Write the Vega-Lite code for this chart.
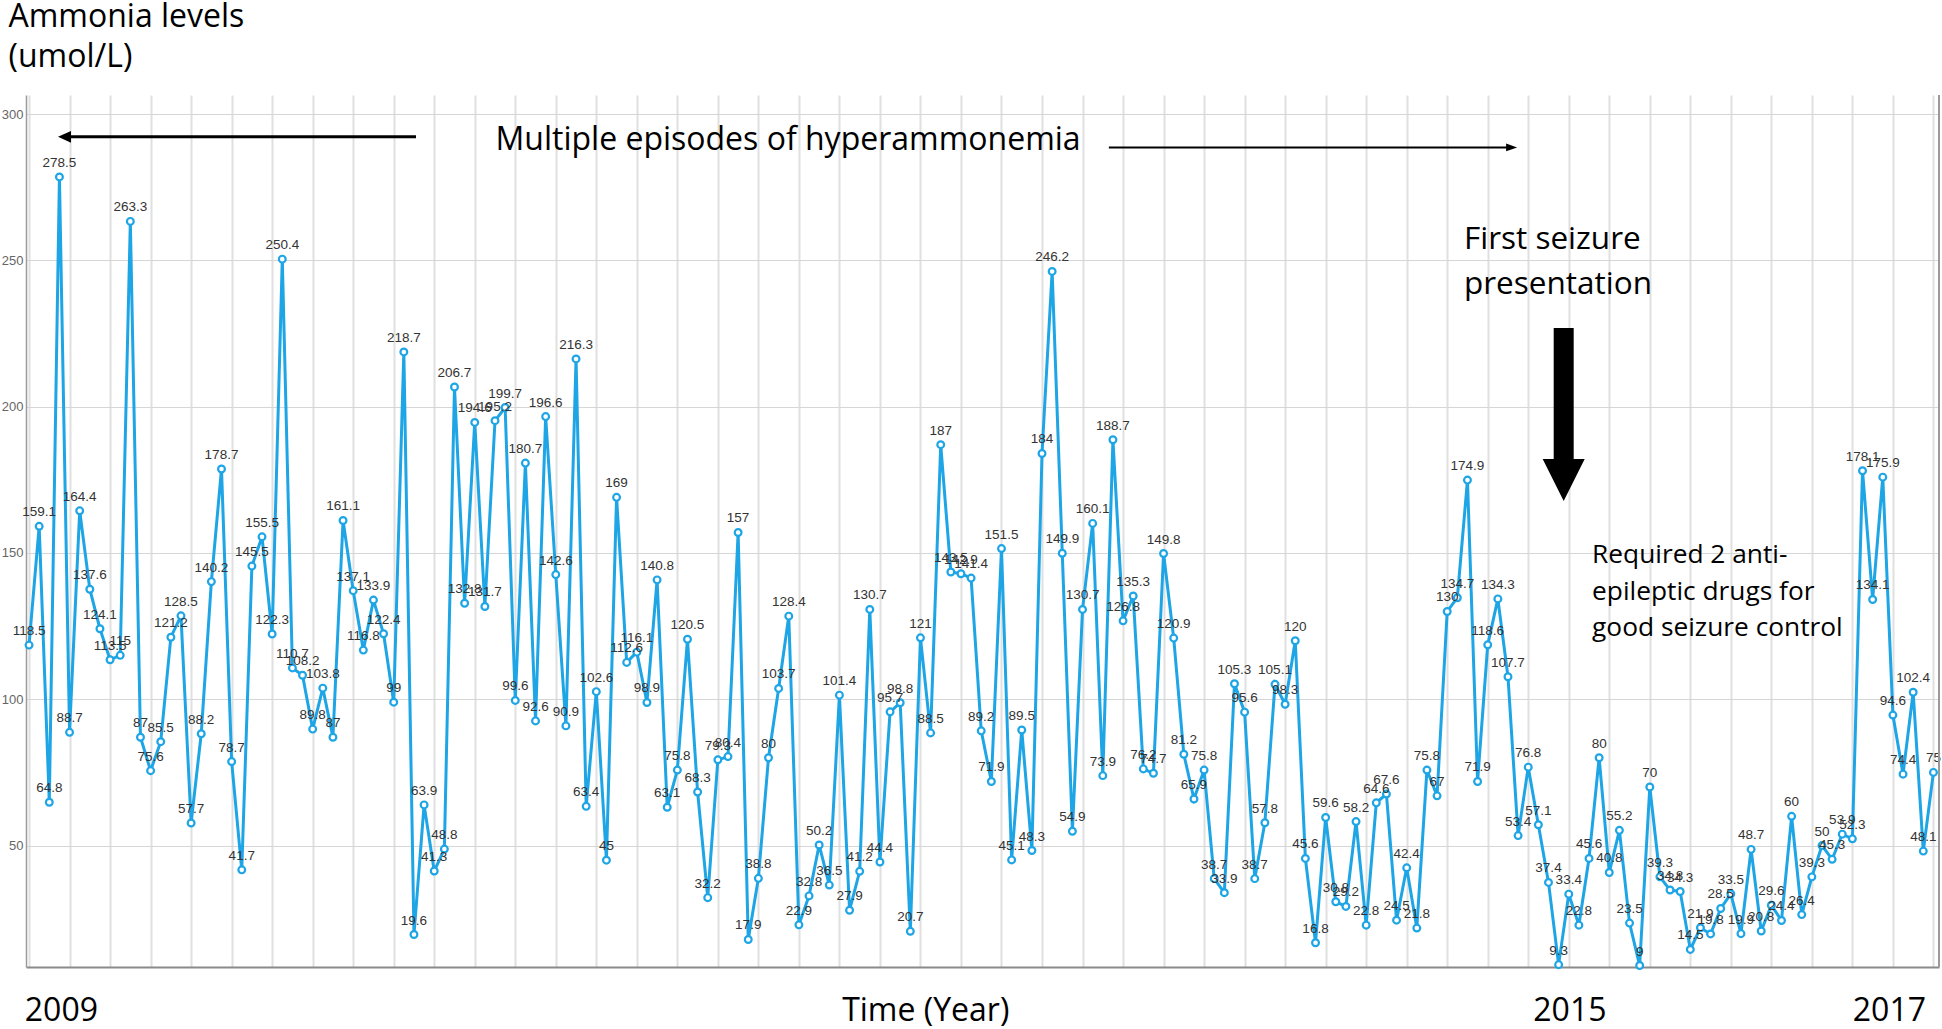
{
  "$schema": "https://vega.github.io/schema/vega-lite/v6.json",
  "width": 1913,
  "height": 872,
  "autosize": {"type": "none"},
  "padding": {"left": 26, "top": 95, "right": 3, "bottom": 62},
  "background": "white",
  "config": {"view": {"stroke": null}},
  "data": {"values": [
    {"i":1,"v":118.5},{"i":2,"v":159.1},{"i":3,"v":64.8},{"i":4,"v":278.5},{"i":5,"v":88.7},{"i":6,"v":164.4},{"i":7,"v":137.6},{"i":8,"v":124.1},{"i":9,"v":113.5},{"i":10,"v":115},
    {"i":11,"v":263.3},{"i":12,"v":87},{"i":13,"v":75.6},{"i":14,"v":85.5},{"i":15,"v":121.2},{"i":16,"v":128.5},{"i":17,"v":57.7},{"i":18,"v":88.2},{"i":19,"v":140.2},{"i":20,"v":178.7},
    {"i":21,"v":78.7},{"i":22,"v":41.7},{"i":23,"v":145.5},{"i":24,"v":155.5},{"i":25,"v":122.3},{"i":26,"v":250.4},{"i":27,"v":110.7},{"i":28,"v":108.2},{"i":29,"v":89.8},{"i":30,"v":103.8},
    {"i":31,"v":87},{"i":32,"v":161.1},{"i":33,"v":137.1},{"i":34,"v":116.8},{"i":35,"v":133.9},{"i":36,"v":122.4},{"i":37,"v":99},{"i":38,"v":218.7},{"i":39,"v":19.6},{"i":40,"v":63.9},
    {"i":41,"v":41.3},{"i":42,"v":48.8},{"i":43,"v":206.7},{"i":44,"v":132.8},{"i":45,"v":194.6},{"i":46,"v":131.7},{"i":47,"v":195.2},{"i":48,"v":199.7},{"i":49,"v":99.6},{"i":50,"v":180.7},
    {"i":51,"v":92.6},{"i":52,"v":196.6},{"i":53,"v":142.6},{"i":54,"v":90.9},{"i":55,"v":216.3},{"i":56,"v":63.4},{"i":57,"v":102.6},{"i":58,"v":45},{"i":59,"v":169},{"i":60,"v":112.6},
    {"i":61,"v":116.1},{"i":62,"v":98.9},{"i":63,"v":140.8},{"i":64,"v":63.1},{"i":65,"v":75.8},{"i":66,"v":120.5},{"i":67,"v":68.3},{"i":68,"v":32.2},{"i":69,"v":79.3},{"i":70,"v":80.4},
    {"i":71,"v":157},{"i":72,"v":17.9},{"i":73,"v":38.8},{"i":74,"v":80},{"i":75,"v":103.7},{"i":76,"v":128.4},{"i":77,"v":22.9},{"i":78,"v":32.8},{"i":79,"v":50.2},{"i":80,"v":36.5},
    {"i":81,"v":101.4},{"i":82,"v":27.9},{"i":83,"v":41.2},{"i":84,"v":130.7},{"i":85,"v":44.4},{"i":86,"v":95.7},{"i":87,"v":98.8},{"i":88,"v":20.7},{"i":89,"v":121},{"i":90,"v":88.5},
    {"i":91,"v":187},{"i":92,"v":143.5},{"i":93,"v":142.9},{"i":94,"v":141.4},{"i":95,"v":89.2},{"i":96,"v":71.9},{"i":97,"v":151.5},{"i":98,"v":45.1},{"i":99,"v":89.5},{"i":100,"v":48.3},
    {"i":101,"v":184},{"i":102,"v":246.2},{"i":103,"v":149.9},{"i":104,"v":54.9},{"i":105,"v":130.7},{"i":106,"v":160.1},{"i":107,"v":73.9},{"i":108,"v":188.7},{"i":109,"v":126.8},{"i":110,"v":135.3},
    {"i":111,"v":76.2},{"i":112,"v":74.7},{"i":113,"v":149.8},{"i":114,"v":120.9},{"i":115,"v":81.2},{"i":116,"v":65.9},{"i":117,"v":75.8},{"i":118,"v":38.7},{"i":119,"v":33.9},{"i":120,"v":105.3},
    {"i":121,"v":95.6},{"i":122,"v":38.7},{"i":123,"v":57.8},{"i":124,"v":105.1},{"i":125,"v":98.3},{"i":126,"v":120},{"i":127,"v":45.6},{"i":128,"v":16.8},{"i":129,"v":59.6},{"i":130,"v":30.8},
    {"i":131,"v":29.2},{"i":132,"v":58.2},{"i":133,"v":22.8},{"i":134,"v":64.6},{"i":135,"v":67.6},{"i":136,"v":24.5},{"i":137,"v":42.4},{"i":138,"v":21.8},{"i":139,"v":75.8},{"i":140,"v":67},
    {"i":141,"v":130},{"i":142,"v":134.7},{"i":143,"v":174.9},{"i":144,"v":71.9},{"i":145,"v":118.6},{"i":146,"v":134.3},{"i":147,"v":107.7},{"i":148,"v":53.4},{"i":149,"v":76.8},{"i":150,"v":57.1},
    {"i":151,"v":37.4},{"i":152,"v":9.3},{"i":153,"v":33.4},{"i":154,"v":22.8},{"i":155,"v":45.6},{"i":156,"v":80},{"i":157,"v":40.8},{"i":158,"v":55.2},{"i":159,"v":23.5},{"i":160,"v":9},
    {"i":161,"v":70},{"i":162,"v":39.3},{"i":163,"v":34.8},{"i":164,"v":34.3},{"i":165,"v":14.5},{"i":166,"v":21.9},{"i":167,"v":19.8},{"i":168,"v":28.5},{"i":169,"v":33.5},{"i":170,"v":19.9},
    {"i":171,"v":48.7},{"i":172,"v":20.8},{"i":173,"v":29.6},{"i":174,"v":24.4},{"i":175,"v":60},{"i":176,"v":26.4},{"i":177,"v":39.3},{"i":178,"v":50},{"i":179,"v":45.3},{"i":180,"v":53.9},
    {"i":181,"v":52.3},{"i":182,"v":178.1},{"i":183,"v":134.1},{"i":184,"v":175.9},{"i":185,"v":94.6},{"i":186,"v":74.4},{"i":187,"v":102.4},{"i":188,"v":48.1},{"i":189,"v":75}
  ]},
  "layer": [
    {
      "mark": {"type": "line", "color": "#1ea5e6", "strokeWidth": 3},
      "encoding": {
        "x": {"field": "i", "type": "quantitative",
          "scale": {"domain": [0.7, 189.55], "nice": false, "zero": false},
          "axis": {
            "values": [1,2,3,4,5,6,7,8,9,10,11,12,13,14,15,16,17,18,19,20,21,22,23,24,25,26,27,28,29,30,31,32,33,34,35,36,37,38,39,40,41,42,43,44,45,46,47,48,49,50,51,52,53,54,55,56,57,58,59,60,61,62,63,64,65,66,67,68,69,70,71,72,73,74,75,76,77,78,79,80,81,82,83,84,85,86,87,88,89,90,91,92,93,94,95,96,97,98,99,100,101,102,103,104,105,106,107,108,109,110,111,112,113,114,115,116,117,118,119,120,121,122,123,124,125,126,127,128,129,130,131,132,133,134,135,136,137,138,139,140,141,142,143,144,145,146,147,148,149,150,151,152,153,154,155,156,157,158,159,160,161,162,163,164,165,166,167,168,169,170,171,172,173,174,175,176,177,178,179,180,181,182,183,184,185,186,187,188,189],
            "grid": true, "gridColor": "#e0e0e0", "gridWidth": 2,
            "ticks": false, "labels": false, "domain": true, "domainColor": "#8a8a8a", "domainWidth": 2,
            "title": null
          }
        },
        "y": {"field": "v", "type": "quantitative",
          "scale": {"domain": [8.5, 306.5], "nice": false, "zero": false},
          "axis": {
            "values": [50, 100, 150, 200, 250, 300],
            "grid": true, "gridColor": "#d6d6d6", "gridWidth": 1,
            "ticks": false, "domainColor": "#9a9a9a", "domainWidth": 1.5,
            "labelFont": "Liberation Sans", "labelFontSize": 13, "labelColor": "#666", "labelPadding": 3,
            "title": ["Ammonia levels", "(umol/L)"],
            "titleAngle": 0, "titleAlign": "left", "titleBaseline": "alphabetic",
            "titleX": -18, "titleY": -69,
            "titleFont": "Open Sans", "titleFontSize": 32, "titleFontWeight": "normal", "titleColor": "#000",
            "titleLineHeight": 40
          }
        }
      }
    },
    {
      "mark": {"type": "point", "shape": "circle", "filled": true, "fill": "white", "stroke": "#1ea5e6", "strokeWidth": 2.2, "size": 46, "opacity": 1},
      "encoding": {
        "x": {"field": "i", "type": "quantitative"},
        "y": {"field": "v", "type": "quantitative"}
      }
    },
    {
      "mark": {"type": "text", "font": "Liberation Sans", "fontSize": 13.5, "letterSpacing": 1.8, "color": "#333", "dy": -10, "baseline": "alphabetic", "align": "center"},
      "encoding": {
        "x": {"field": "i", "type": "quantitative"},
        "y": {"field": "v", "type": "quantitative"},
        "text": {"field": "v", "type": "quantitative", "format": ""}
      }
    },
    {
      "data": {"values": [{}]},
      "mark": {"type": "rule", "color": "#9a9a9a", "strokeWidth": 2},
      "encoding": {"x": {"datum": 189.55, "type": "quantitative"}}
    },
    {
      "data": {"values": [{}]},
      "mark": {"type": "rule", "color": "#000", "strokeWidth": 3},
      "encoding": {
        "x": {"datum": 39.2, "type": "quantitative"},
        "x2": {"datum": 4.8},
        "y": {"datum": 292.2, "type": "quantitative"}
      }
    },
    {
      "data": {"values": [{}]},
      "mark": {"type": "point", "shape": "M-1,0L1,-0.9L1,0.9Z", "filled": true, "color": "#000", "size": 169, "opacity": 1},
      "encoding": {
        "x": {"datum": 4.5, "type": "quantitative"},
        "y": {"datum": 292.2, "type": "quantitative"}
      }
    },
    {
      "data": {"values": [{}]},
      "mark": {"type": "rule", "color": "#000", "strokeWidth": 2},
      "encoding": {
        "x": {"datum": 107.6, "type": "quantitative"},
        "x2": {"datum": 147.0},
        "y": {"datum": 288.6, "type": "quantitative"}
      }
    },
    {
      "data": {"values": [{}]},
      "mark": {"type": "point", "shape": "M1,0L-1,-0.7L-1,0.7Z", "filled": true, "color": "#000", "size": 121, "opacity": 1},
      "encoding": {
        "x": {"datum": 147.36, "type": "quantitative"},
        "y": {"datum": 288.6, "type": "quantitative"}
      }
    },
    {
      "data": {"values": [{}]},
      "mark": {"type": "text", "text": "Multiple episodes of hyperammonemia", "font": "Open Sans", "fontSize": 32, "color": "#000", "align": "left", "baseline": "alphabetic"},
      "encoding": {
        "x": {"datum": 47.05, "type": "quantitative"},
        "y": {"datum": 287.7, "type": "quantitative"}
      }
    },
    {
      "data": {"values": [{}]},
      "mark": {"type": "text", "text": ["First seizure", "presentation"], "font": "Open Sans", "fontSize": 31.5, "lineHeight": 44.6, "color": "#000", "align": "left", "baseline": "alphabetic"},
      "encoding": {
        "x": {"datum": 142.65, "type": "quantitative"},
        "y": {"datum": 253.8, "type": "quantitative"}
      }
    },
    {
      "data": {"values": [{}]},
      "mark": {"type": "rule", "color": "#000", "strokeWidth": 20, "strokeCap": "butt"},
      "encoding": {
        "x": {"datum": 152.5, "type": "quantitative"},
        "y": {"datum": 226.9, "type": "quantitative"},
        "y2": {"datum": 181}
      }
    },
    {
      "data": {"values": [{}]},
      "mark": {"type": "point", "shape": "M-1,-1L1,-1L0,1Z", "filled": true, "color": "#000", "size": 1764, "opacity": 1},
      "encoding": {
        "x": {"datum": 152.5, "type": "quantitative"},
        "y": {"datum": 174.95, "type": "quantitative"}
      }
    },
    {
      "data": {"values": [{}]},
      "mark": {"type": "text", "text": ["Required 2 anti-", "epileptic drugs for", "good seizure control"], "font": "Open Sans", "fontSize": 26.3, "lineHeight": 36.5, "color": "#000", "align": "left", "baseline": "alphabetic"},
      "encoding": {
        "x": {"datum": 155.3, "type": "quantitative"},
        "y": {"datum": 146.4, "type": "quantitative"}
      }
    },
    {
      "data": {"values": [{}]},
      "mark": {"type": "text", "text": "2009", "font": "Open Sans", "fontSize": 32, "color": "#000", "align": "left", "baseline": "alphabetic"},
      "encoding": {
        "x": {"datum": 0.58, "type": "quantitative"},
        "y": {"datum": -9.8, "type": "quantitative"}
      }
    },
    {
      "data": {"values": [{}]},
      "mark": {"type": "text", "text": "Time (Year)", "font": "Open Sans", "fontSize": 32, "color": "#000", "align": "left", "baseline": "alphabetic"},
      "encoding": {
        "x": {"datum": 81.27, "type": "quantitative"},
        "y": {"datum": -9.8, "type": "quantitative"}
      }
    },
    {
      "data": {"values": [{}]},
      "mark": {"type": "text", "text": "2015", "font": "Open Sans", "fontSize": 32, "color": "#000", "align": "left", "baseline": "alphabetic"},
      "encoding": {
        "x": {"datum": 149.5, "type": "quantitative"},
        "y": {"datum": -9.8, "type": "quantitative"}
      }
    },
    {
      "data": {"values": [{}]},
      "mark": {"type": "text", "text": "2017", "font": "Open Sans", "fontSize": 32, "color": "#000", "align": "left", "baseline": "alphabetic"},
      "encoding": {
        "x": {"datum": 181.04, "type": "quantitative"},
        "y": {"datum": -9.8, "type": "quantitative"}
      }
    }
  ]
}
